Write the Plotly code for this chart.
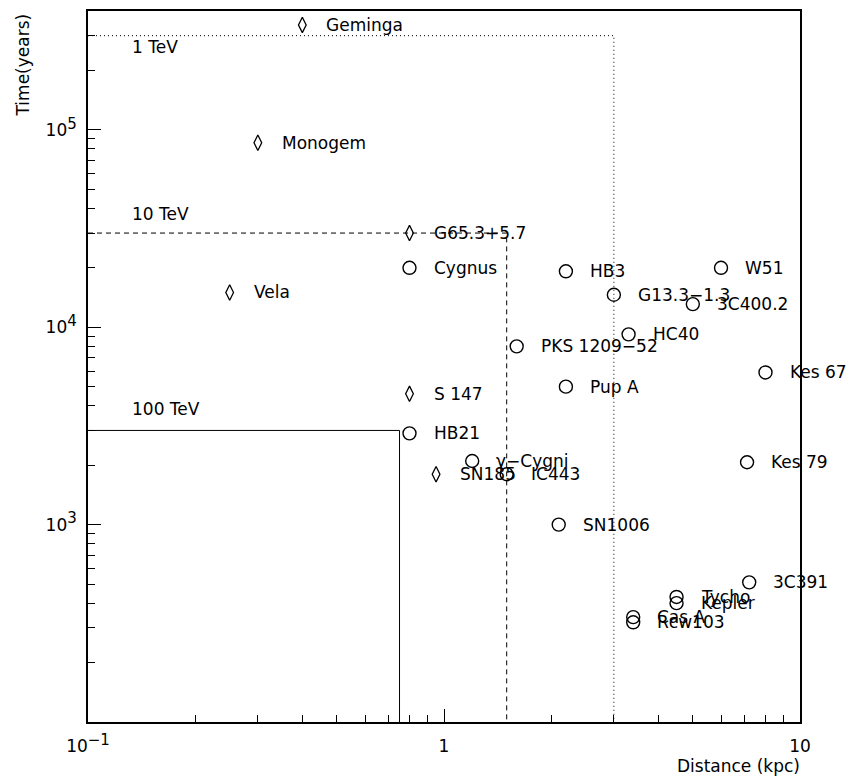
import plotly.graph_objects as go
import math

# ---------------- data ----------------
# Pulsars (open diamonds)
psr_names = ["Geminga", "Monogem", "Vela", "G65.3+5.7", "S 147", "SN185"]
psr_dist = [0.40, 0.30, 0.25, 0.80, 0.80, 0.95]          # kpc
psr_age = [3.4e5, 8.6e4, 1.5e4, 3.0e4, 4.6e3, 1.8e3]      # years

# SNRs (open circles)
snr_names = ["Cygnus", "HB21", "γ\u2212Cygni", "IC443", "HB3", "W51", "G13.3\u22121.3",
             "3C400.2", "HC40", "PKS 1209\u221252", "Pup A", "Kes 67", "Kes 79",
             "SN1006", "3C391", "Tycho", "Kepler", "Cas A", "Rcw103"]
snr_dist = [0.80, 0.80, 1.2, 1.5, 2.2, 6.0, 3.0,
            5.0, 3.3, 1.6, 2.2, 8.0, 7.1,
            2.1, 7.2, 4.5, 4.5, 3.4, 3.4]
snr_age = [2.0e4, 2.9e3, 2.1e3, 1.8e3, 1.92e4, 2.0e4, 1.46e4,
           1.31e4, 9.2e3, 8.0e3, 5.0e3, 5.9e3, 2.07e3,
           1.0e3, 5.1e2, 4.3e2, 4.0e2, 3.4e2, 3.2e2]

# Energy thresholds: (label, max distance kpc, max age years)
thr_labels = ["1 TeV", "10 TeV", "100 TeV"]
thr_dist = [3.0, 1.5, 0.75]
thr_age = [3.0e5, 3.0e4, 3.0e3]
thr_dash = ["1px,3px", "5px,4px", "solid"]
thr_label_shift = [-11, 19, 21]

x_range = [0.1, 10]
y_range = [100, 4.0e5]

SUP = '<sup><span style="font-size:15px">{}</span></sup>'
x_tickvals = [0.1, 1, 10]
x_ticktext = ["10" + SUP.format("\u22121"), "1", "10"]
y_tickvals = [1e3, 1e4, 1e5]
y_ticktext = ["10" + SUP.format("3"), "10" + SUP.format("4"), "10" + SUP.format("5")]

# ---------------- figure ----------------
FONT = "DejaVu Sans"
fig = go.Figure()

for lab, xd, ya, dash in zip(thr_labels, thr_dist, thr_age, thr_dash):
    fig.add_trace(go.Scatter(
        x=[x_range[0], xd, xd], y=[ya, ya, y_range[0]],
        mode="lines", line=dict(color="black", width=1, dash=dash),
        hoverinfo="skip", showlegend=False, cliponaxis=True))

fig.add_trace(go.Scatter(
    x=psr_dist, y=psr_age, mode="markers",
    marker=dict(symbol="diamond-tall-open", size=11, color="black",
                line=dict(color="black", width=1.3)),
    showlegend=False, cliponaxis=False))

fig.add_trace(go.Scatter(
    x=snr_dist, y=snr_age, mode="markers",
    marker=dict(symbol="circle-open", size=13, color="black",
                line=dict(color="black", width=1.4)),
    showlegend=False, cliponaxis=False))

annotations = []
for n, xd, ya in list(zip(psr_names, psr_dist, psr_age)) + list(zip(snr_names, snr_dist, snr_age)):
    annotations.append(dict(
        x=math.log10(xd), y=math.log10(ya), xref="x", yref="y",
        text=n, showarrow=False, xanchor="left", yanchor="middle",
        xshift=22, font=dict(family=FONT, size=17, color="black")))

for lab, ya, sh in zip(thr_labels, thr_age, thr_label_shift):
    annotations.append(dict(
        x=math.log10(0.131), y=math.log10(ya), xref="x", yref="y",
        text=lab, showarrow=False, xanchor="left", yanchor="middle",
        yshift=sh, font=dict(family=FONT, size=17, color="black")))

annotations.append(dict(
    x=1, y=0, xref="paper", yref="paper", text="Distance (kpc)",
    showarrow=False, xanchor="right", yanchor="middle", yshift=-44, xshift=2,
    font=dict(family=FONT, size=17, color="black")))
annotations.append(dict(
    x=0, y=1, xref="paper", yref="paper", text="Time(years)",
    showarrow=False, textangle=-90, xanchor="center", yanchor="top",
    xshift=-66, yshift=-1, font=dict(family=FONT, size=17, color="black")))

x_minor = [m * 10 ** e for e in (-1, 0) for m in range(2, 10)]
y_minor = [m * 10 ** e for e in (2, 3, 4, 5) for m in range(2, 10) if m * 10 ** e < y_range[1]]

# page body has an 8px margin: shrink the figure so the plot frame lands at
# x 88..800, y 11..722 in the 857x776 window
fig.update_layout(
    width=849, height=768,
    margin=dict(l=80, r=57, t=3, b=54, autoexpand=False),
    paper_bgcolor="white", plot_bgcolor="white",
    annotations=annotations,
    font=dict(family=FONT, size=17, color="black"),
    xaxis=dict(
        type="log", range=[math.log10(x_range[0]), math.log10(x_range[1])],
        showgrid=False, zeroline=False, automargin=False,
        showline=True, linecolor="black", linewidth=1.6, mirror=True,
        ticks="inside", ticklen=13, tickwidth=1, tickcolor="black",
        tickmode="array", tickvals=x_tickvals, ticktext=x_ticktext,
        ticklabelstandoff=8,
        tickfont=dict(family=FONT, size=17, color="black"),
        minor=dict(ticks="inside", ticklen=7, tickwidth=1, tickcolor="black",
                   tickmode="array", tickvals=x_minor, showgrid=False),
    ),
    yaxis=dict(
        type="log", range=[math.log10(y_range[0]), math.log10(y_range[1])],
        showgrid=False, zeroline=False, automargin=False,
        showline=True, linecolor="black", linewidth=1.6, mirror=True,
        ticks="inside", ticklen=13, tickwidth=1, tickcolor="black",
        tickmode="array", tickvals=y_tickvals, ticktext=y_ticktext,
        ticklabelstandoff=6,
        tickfont=dict(family=FONT, size=17, color="black"),
        minor=dict(ticks="inside", ticklen=7, tickwidth=1, tickcolor="black",
                   tickmode="array", tickvals=y_minor, showgrid=False),
    ),
)

fig.write_html("out.html")
